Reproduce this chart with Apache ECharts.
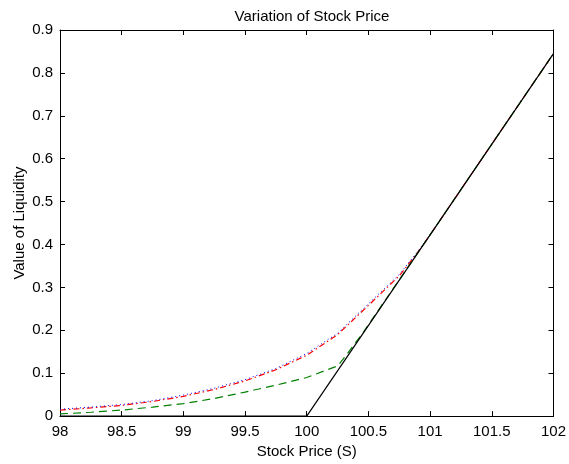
<!DOCTYPE html>
<html>
<head>
<meta charset="utf-8">
<script src="https://cdn.jsdelivr.net/npm/echarts@6/dist/echarts.min.js"></script>
<style>
html,body{margin:0;padding:0;background:#fff;}
#chart{width:569px;height:464px;}
</style>
</head>
<body>
<div id="chart"></div>
<script>
// Data
var xTicks = [98, 98.5, 99, 99.5, 100, 100.5, 101, 101.5, 102];
var yTicks = [0, 0.1, 0.2, 0.3, 0.4, 0.5, 0.6, 0.7, 0.8, 0.9];

var redX   = [98, 98.25, 98.5, 98.75, 99, 99.25, 99.5, 99.75, 100, 100.25, 100.5, 100.75, 100.9, 101, 101.5, 102];
var redY   = [0.014, 0.019, 0.025, 0.034, 0.046, 0.062, 0.082, 0.108, 0.142, 0.19, 0.258, 0.327, 0.382, 0.4225, 0.634, 0.845];

var blueX  = [98, 98.25, 98.5, 98.75, 99, 99.25, 99.5, 99.75, 100, 100.25, 100.5, 100.75, 100.9, 101, 101.5, 102];
var blueY  = [0.016, 0.021, 0.027, 0.036, 0.049, 0.065, 0.085, 0.111, 0.146, 0.193, 0.262, 0.330, 0.384, 0.4225, 0.634, 0.845];

var greenX = [98, 98.25, 98.5, 98.75, 99, 99.25, 99.5, 99.75, 100, 100.25, 100.32, 100.4, 100.45, 101, 101.5, 102];
var greenY = [0.005, 0.009, 0.014, 0.021, 0.029, 0.041, 0.056, 0.072, 0.09, 0.117, 0.142, 0.173, 0.192, 0.4225, 0.634, 0.845];

var blackX = [98, 100, 102];
var blackY = [0, 0, 0.845];

function pairs(xs, ys) { return xs.map(function (x, i) { return [x, ys[i]]; }); }

var FONT = 'Liberation Sans, Arial, sans-serif';
var chart = echarts.init(document.getElementById('chart'), null, {renderer: 'canvas'});

var axisCommon = {
  axisLine: {show: true, onZero: false, lineStyle: {color: '#000', width: 1}},
  axisTick: {show: true, inside: true, length: 5, lineStyle: {color: '#000'}},
  splitLine: {show: false}
};

chart.setOption({
  animation: false,
  backgroundColor: '#fff',
  title: {
    text: 'Variation of Stock Price',
    left: 307, top: 4, textAlign: 'center',
    textStyle: {fontFamily: FONT, fontSize: 15, fontWeight: 'normal', color: '#000'}
  },
  grid: {left: 60, right: 14, top: 30, bottom: 44},
  xAxis: [
    Object.assign({
      type: 'value', min: xTicks[0], max: xTicks[xTicks.length - 1], interval: 0.5,
      position: 'bottom',
      name: 'Stock Price (S)', nameLocation: 'middle', nameGap: 26,
      nameTextStyle: {fontFamily: FONT, fontSize: 15, color: '#000'},
      axisLabel: {fontFamily: FONT, fontSize: 15, color: '#000', margin: 8}
    }, axisCommon),
    Object.assign({
      type: 'value', min: xTicks[0], max: xTicks[xTicks.length - 1], interval: 0.5,
      position: 'top', axisLabel: {show: false}
    }, axisCommon)
  ],
  yAxis: [
    Object.assign({
      type: 'value', min: yTicks[0], max: yTicks[yTicks.length - 1], interval: 0.1,
      position: 'left',
      name: 'Value of Liquidity', nameLocation: 'middle', nameGap: 33, nameMoveOverlap: false,
      nameTextStyle: {fontFamily: FONT, fontSize: 15, color: '#000'},
      axisLabel: {fontFamily: FONT, fontSize: 15, color: '#000', margin: 7,
        formatter: function (v) { return String(Math.round(v * 10) / 10); }}
    }, axisCommon),
    Object.assign({
      type: 'value', min: yTicks[0], max: yTicks[yTicks.length - 1], interval: 0.1,
      position: 'right', axisLabel: {show: false}
    }, axisCommon)
  ],
  series: [
    {type: 'line', data: pairs(redX, redY), showSymbol: false, symbol: 'none',
     lineStyle: {color: '#ff0000', width: 1.2, type: [6, 3, 1.5, 3]}, z: 2},
    {type: 'line', data: pairs(blueX, blueY), showSymbol: false, symbol: 'none',
     lineStyle: {color: '#0000ff', width: 1, type: [1, 3]}, z: 3},
    {type: 'line', data: pairs(greenX, greenY), showSymbol: false, symbol: 'none',
     lineStyle: {color: '#008000', width: 1.2, type: [8, 5]}, z: 4},
    {type: 'line', data: pairs(blackX, blackY), showSymbol: false, symbol: 'none',
     lineStyle: {color: '#000', width: 1.2, type: 'solid'}, z: 5}
  ]
});
</script>
</body>
</html>
